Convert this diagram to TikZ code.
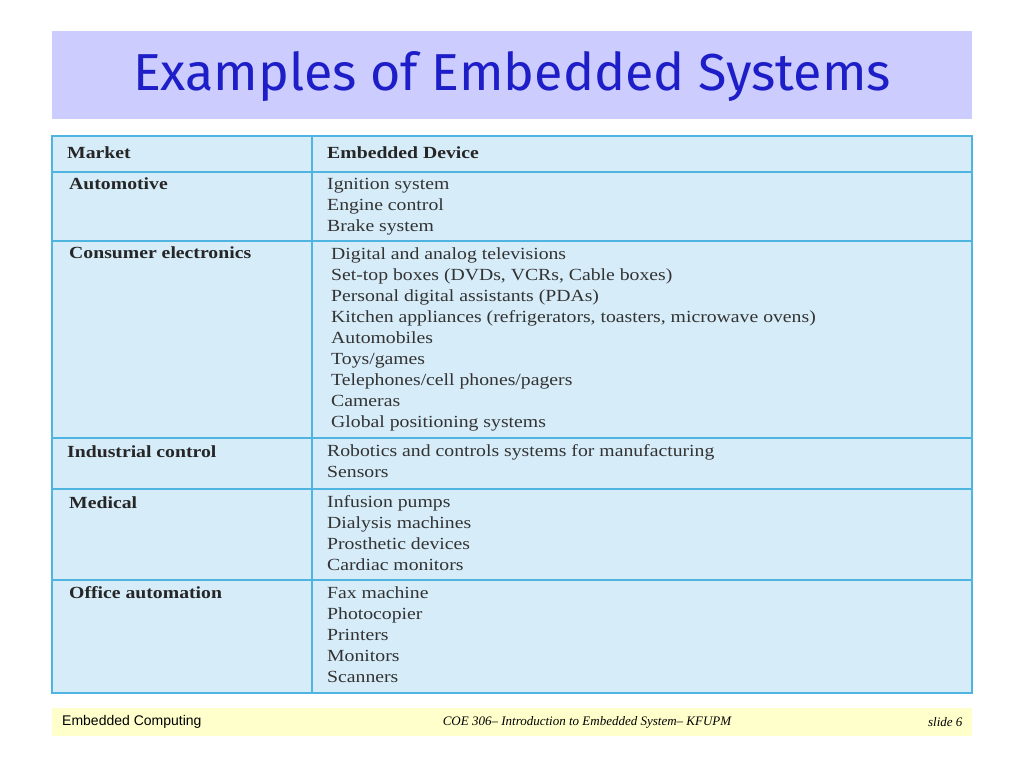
\documentclass[tikz,border=0pt]{standalone}
\usepackage{fontspec}
\setmainfont{Liberation Serif}
\setsansfont{Liberation Sans}
\newfontfamily\titlefont{Fira Sans}
\newfontfamily\tablefont[FakeStretch=1.16]{Liberation Serif}
\usetikzlibrary{positioning}
\definecolor{titleband}{RGB}{204,204,255}
\definecolor{titleblue}{RGB}{30,30,200}
\definecolor{tablefill}{RGB}{214,236,248}
\definecolor{tableline}{RGB}{80,180,225}
\definecolor{footband}{RGB}{255,255,204}
\tikzset{
    market/.style={anchor=north west, inner sep=0pt, font=\tablefont\fontsize{17}{21}\selectfont\bfseries, text=black!85},
    device/.style={anchor=north west, inner sep=0pt, align=left, font=\tablefont\fontsize{17}{21}\selectfont, text=black!80},
    rule/.style={draw=tableline, line width=2pt}
}
\begin{document}
\begin{tikzpicture}[x=1pt, y=-1pt]
        \useasboundingbox (0, 0) rectangle (1024, 768);

        % title
        \fill[titleband] (52, 31) rectangle (972, 119);
        \node[text=titleblue, font=\titlefont\fontsize{52}{54}\selectfont] (title) at (512, 77) {Examples of Embedded Systems};

        % table
        \fill[tablefill] (52, 136) rectangle (972, 693);
        \draw[rule] (52, 136) rectangle (972, 693);
        \draw[rule] (312, 136) -- (312, 693);
        \foreach \y in {172, 241, 438, 489, 580}
            \draw[rule] (52, \y) -- (972, \y);

        \node[market] (mhead) at (67, 147) {Market};
        \node[market] (dhead) at (327, 147) {Embedded Device};

        \node[market] (m1) at (69, 178) {Automotive};
        \node[device] (d1) at (327, 178) {Ignition system\\Engine control\\Brake system};

        \node[market] (m2) at (69, 247) {Consumer electronics};
        \node[device] (d2) at (331, 247) {Digital and analog televisions\\Set-top boxes (DVDs, VCRs, Cable boxes)\\Personal digital assistants (PDAs)\\Kitchen appliances (refrigerators, toasters, microwave ovens)\\Automobiles\\Toys/games\\Telephones/cell phones/pagers\\Cameras\\Global positioning systems};

        \node[market] (m3) at (67, 445) {Industrial control};
        \node[device] (d3) at (327, 444) {Robotics and controls systems for manufacturing\\Sensors};

        \node[market] (m4) at (69, 496) {Medical};
        \node[device] (d4) at (327, 495) {Infusion pumps\\Dialysis machines\\Prosthetic devices\\Cardiac monitors};

        \node[market] (m5) at (69, 586) {Office automation};
        \node[device] (d5) at (327, 586) {Fax machine\\Photocopier\\Printers\\Monitors\\Scanners};

        % footer
        \fill[footband] (52, 708) rectangle (972, 736);
        \node[anchor=west, inner sep=0pt, font=\sffamily\fontsize{14}{16}\selectfont] (fleft) at (62, 722) {Embedded Computing};
        \node[font=\itshape\fontsize{13}{15}\selectfont] (fmid) at (587, 722) {COE 306– Introduction to Embedded System– KFUPM};
        \node[anchor=east, font=\itshape\fontsize{13}{15}\selectfont] (fright) at (966, 722) {slide 6};
\end{tikzpicture}
\end{document}
